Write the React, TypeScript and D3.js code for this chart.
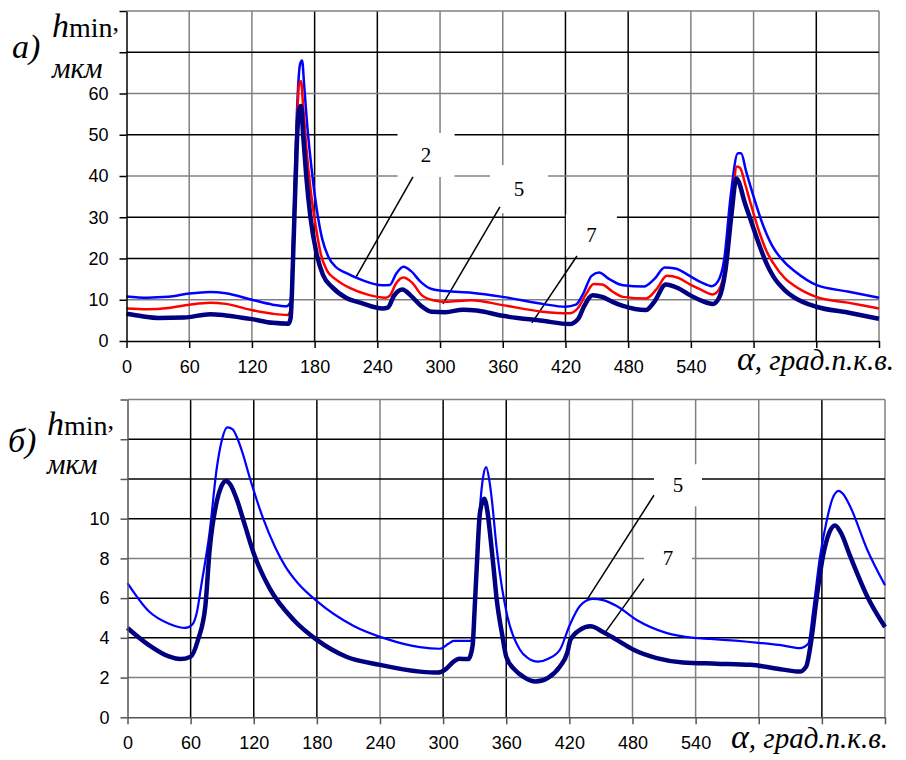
import { useEffect, useRef } from 'react';
import * as d3 from 'd3';

type Pt = [number, number];

// Angle axis (crank angle, degrees) -------------------------------------------
const ANGLE_TICKS = [0, 60, 120, 180, 240, 300, 360, 420, 480, 540, 600, 660, 720];
const ANGLE_LABELS = [0, 60, 120, 180, 240, 300, 360, 420, 480, 540];

// Panel a) ---------------------------------------------------------------------
const TOP_Y_TICKS = [0, 10, 20, 30, 40, 50, 60, 70, 80];
const TOP_Y_LABELS = [0, 10, 20, 30, 40, 50, 60];

const TOP_CURVE_2: Pt[] = [
  [0, 10.8], [20, 10.5], [40, 10.7], [60, 11.5], [80, 11.9], [95, 11.6], [120, 10.0], [140, 8.8],
  [153, 8.4], [157, 9.5], [160, 30], [163, 55], [166, 67], [168, 68], [170, 62], [173, 52],
  [177, 42], [182, 32], [187, 25], [193, 20.5], [200, 18], [210, 16.5], [225, 14.8], [245, 13.5],
  [252, 13.6], [258, 16.3], [265, 18], [272, 17], [282, 14.2], [292, 12.6], [305, 12.1], [330, 11.7],
  [360, 10.7], [398, 9.0], [420, 8.3], [430, 8.8], [437, 11.5], [445, 15.8], [452, 16.6], [462, 15],
  [475, 13.5], [495, 13.2], [505, 15], [515, 17.8], [525, 17.6], [540, 15.6], [550, 14.2], [560, 13.3],
  [566, 14.5], [572, 20], [578, 35], [585, 45.5], [588, 45.5], [593, 41], [600, 35], [607, 29.5],
  [618, 23], [630, 19], [640, 16.8], [660, 13.6], [690, 12], [720, 10.5],
];

const TOP_CURVE_5: Pt[] = [
  [0, 7.9], [20, 7.7], [40, 8.0], [60, 8.8], [80, 9.3], [95, 9.0], [120, 7.5], [140, 6.6],
  [154, 6.3], [157, 7.5], [160, 28], [163, 52], [165, 62], [167, 63], [169, 57], [172, 47],
  [176, 37], [181, 28], [186, 21], [192, 17], [200, 15], [214, 12.8], [230, 11.3], [248, 10.5],
  [252, 11], [258, 14], [265, 15.4], [273, 14.2], [283, 11], [295, 9.8], [305, 9.5], [330, 9.9],
  [360, 8.7], [398, 7.1], [424, 6.7], [432, 8.0], [440, 11.5], [447, 13.8], [455, 13.7], [465, 12],
  [475, 10.7], [497, 10.3], [507, 12.5], [517, 15.8], [528, 15.3], [540, 13.6], [550, 12.4], [561, 11.3],
  [567, 12.5], [573, 18], [579, 32], [584, 42.3], [587, 42], [592, 38], [597, 33.5], [606, 26],
  [612, 22], [619, 18.8], [630, 15.2], [638, 13.6], [660, 10.7], [690, 9.3], [720, 7.9],
];

const TOP_CURVE_7: Pt[] = [
  [0, 6.6], [15, 6.0], [30, 5.6], [55, 5.7], [80, 6.5], [95, 6.2], [120, 5.3], [140, 4.4],
  [155, 4.2], [157, 5.5], [160, 25], [163, 48], [165, 56], [167, 57], [169, 50], [172, 40],
  [176, 30], [182, 21], [188, 16], [197, 13], [210, 10.5], [225, 9.2], [245, 7.9], [250, 8.1],
  [256, 11], [264, 12.5], [272, 11], [282, 8.5], [292, 7.1], [305, 7.0], [322, 7.6], [335, 7.4],
  [360, 6.1], [398, 4.9], [424, 4.1], [432, 5.3], [438, 8.5], [446, 11.1], [455, 10.7], [465, 9.5],
  [475, 8.5], [497, 7.5], [505, 9.5], [516, 13.7], [528, 12.8], [540, 11], [550, 9.8], [561, 9.0],
  [567, 10.5], [573, 17], [579, 31], [583.5, 39.4], [586, 38.5], [591, 34], [597, 29.5], [606, 22.9],
  [612, 19], [619, 15.6], [630, 12.3], [638, 10.7], [660, 8.3], [690, 6.9], [720, 5.4],
];

// Panel б) ---------------------------------------------------------------------
const BOTTOM_Y_TICKS = [0, 2, 4, 6, 8, 10, 12, 14, 16];
const BOTTOM_Y_LABELS = [0, 2, 4, 6, 8, 10];

const BOTTOM_CURVE_5: Pt[] = [
  [0, 6.75], [20, 5.35], [40, 4.7], [55, 4.5], [62, 4.7], [66, 5.3], [70, 6.6], [78, 9.3],
  [85, 12.6], [89, 13.8], [95, 14.6], [100, 14.5], [104, 14.1], [110, 13.2], [116, 12.1], [129, 10],
  [140, 8.6], [150, 7.6], [162, 6.75], [180, 5.85], [215, 4.6], [246, 3.95], [278, 3.53], [297, 3.45],
  [305, 3.7], [310, 3.85], [326, 3.85], [329, 4.3], [331, 6.5], [333.5, 9.3], [338, 12.1], [341, 12.6],
  [344, 11.9], [346, 11.1], [351, 8.45], [356, 6.5], [361, 5.1], [373, 3.4], [380, 3.0], [390, 2.8],
  [400, 2.95], [411, 3.4], [420, 4.6], [430, 5.6], [442, 5.96], [452, 5.9], [465, 5.6], [484, 4.9],
  [512, 4.25], [538, 4.0], [554, 3.95], [600, 3.75], [625, 3.6], [639, 3.48], [647, 3.7], [652, 5.5],
  [658, 8], [665, 10], [670, 11], [676, 11.4], [680, 11.25], [687, 10.6], [703, 8.45], [720, 6.65],
];

const BOTTOM_CURVE_7: Pt[] = [
  [0, 4.5], [20, 3.65], [40, 3.05], [50, 2.93], [60, 3.05], [67, 3.9], [74, 5.6], [78, 8.4],
  [85, 10.9], [89, 11.6], [93.6, 11.9], [98, 11.7], [104, 10.95], [112, 9.6], [120, 8.25], [135, 6.5],
  [158, 4.9], [180, 3.9], [208, 3.05], [240, 2.64], [278, 2.3], [295, 2.25], [302, 2.4], [310, 2.8],
  [315, 2.95], [324, 2.93], [328, 3.6], [330, 5.5], [332, 7.6], [335, 10.3], [339, 11.0], [342, 10.4],
  [344.5, 9.3], [348, 7.5], [351, 5.9], [356, 4.2], [360, 3.05], [368, 2.4], [376, 2.05], [388, 1.8],
  [400, 2.0], [411, 2.56], [418, 3.25], [421, 3.9], [430, 4.4], [440, 4.58], [452, 4.3], [465, 3.9],
  [481, 3.4], [503, 2.98], [528, 2.76], [560, 2.7], [592, 2.64], [623, 2.4], [639, 2.3], [645, 2.55],
  [650, 3.9], [655, 6], [661, 8.1], [667, 9.3], [672.5, 9.66], [678, 9.3], [687, 8.1], [703, 6.1],
  [720, 4.55],
];

// Styles ---------------------------------------------------------------------
const BLUE = '#0000ff';
const RED = '#ff0000';
const NAVY = '#000080';
const GRID_DARK = '#000000';
const GRID_GRAY = '#808080';
const FONT_SANS = '"Liberation Sans", Arial, sans-serif';
const FONT_SERIF = '"Liberation Serif", "Times New Roman", serif';

type Callout = { label: string; box: Pt; w: number; h: number; from: Pt; to: Pt };

type Panel = {
  left: number; right: number; top: number; bottom: number; yMax: number;
  yTicks: number[]; yLabels: number[];
  darkX: number[]; darkY: number[]; axisColor: string;
  series: { points: Pt[]; color: string; width: number }[];
  callouts: Callout[];
  tag: string; tagY: number; hY: number; unitY: number; hX: number; tagX: number;
  alphaY: number; alphaX: number;
};

const PANELS: Panel[] = [
  {
    left: 126.5, right: 879, top: 11, bottom: 341, yMax: 80,
    yTicks: TOP_Y_TICKS, yLabels: TOP_Y_LABELS,
    darkX: [180, 240, 420, 480, 660], darkY: [20, 30, 50, 70], axisColor: '#000',
    series: [
      { points: TOP_CURVE_2, color: BLUE, width: 2.5 },
      { points: TOP_CURVE_5, color: RED, width: 2.5 },
      { points: TOP_CURVE_7, color: NAVY, width: 4.5 },
    ],
    callouts: [
      { label: '2', box: [286.6, 45.1], w: 57, h: 44, from: [274.1, 39.8], to: [219.6, 15.5] },
      { label: '5', box: [375.5, 36.8], w: 58, h: 48, from: [357.3, 32.5], to: [302.8, 9.0] },
      { label: '7', box: [444.8, 25.7], w: 51, h: 42, from: [431, 20.6], to: [387.9, 4.4] },
    ],
    tag: 'а)', tagX: 12, tagY: 58, hX: 52, hY: 37, unitY: 78, alphaX: 737, alphaY: 370,
  },
  {
    left: 127.5, right: 885, top: 399.5, bottom: 717.3, yMax: 16,
    yTicks: BOTTOM_Y_TICKS, yLabels: BOTTOM_Y_LABELS,
    darkX: [60, 120, 180, 300, 360, 660], darkY: [4, 6, 10, 12, 14], axisColor: '#555',
    series: [
      { points: BOTTOM_CURVE_5, color: BLUE, width: 2.2 },
      { points: BOTTOM_CURVE_7, color: NAVY, width: 4.5 },
    ],
    callouts: [
      { label: '5', box: [523.2, 11.68], w: 48, h: 42, from: [500.4, 11.18], to: [436.8, 5.92] },
      { label: '7', box: [513.7, 8.0], w: 48, h: 38, from: [490.9, 6.98], to: [453.9, 4.26] },
    ],
    tag: 'б)', tagX: 8, tagY: 452, hX: 47, hY: 435, unitY: 474, alphaX: 731, alphaY: 748,
  },
];

function drawPanel(svg: d3.Selection<SVGSVGElement, unknown, null, undefined>, p: Panel) {
  const x = d3.scaleLinear().domain([0, 720]).range([p.left, p.right]);
  const y = d3.scaleLinear().domain([0, p.yMax]).range([p.bottom, p.top]);
  const g = svg.append('g');

  // Grid -----------------------------------------------------------------
  g.selectAll('line.vgrid')
    .data(ANGLE_TICKS.filter((t) => t > 0))
    .join('line')
    .attr('x1', (d) => x(d)).attr('x2', (d) => x(d))
    .attr('y1', y(0)).attr('y2', y(p.yMax))
    .attr('stroke', (d) => (p.darkX.includes(d) ? GRID_DARK : GRID_GRAY))
    .attr('stroke-width', 1.5);

  g.selectAll('line.hgrid')
    .data(p.yTicks.filter((t) => t > 0))
    .join('line')
    .attr('x1', x(0)).attr('x2', x(720))
    .attr('y1', (d) => y(d)).attr('y2', (d) => y(d))
    .attr('stroke', (d) => (p.darkY.includes(d) ? GRID_DARK : GRID_GRAY))
    .attr('stroke-width', 1.5);

  // Callout boxes hide the grid behind the curve numbers ------------------
  for (const c of p.callouts) {
    g.append('rect')
      .attr('x', x(c.box[0]) - c.w / 2).attr('y', y(c.box[1]) - c.h / 2)
      .attr('width', c.w).attr('height', c.h)
      .attr('fill', '#fff');
    g.append('text')
      .attr('x', x(c.box[0])).attr('y', y(c.box[1]) + 7)
      .attr('text-anchor', 'middle')
      .style('font-family', FONT_SERIF).style('font-size', '21px')
      .text(c.label);
    g.append('line')
      .attr('x1', x(c.from[0])).attr('y1', y(c.from[1]))
      .attr('x2', x(c.to[0])).attr('y2', y(c.to[1]))
      .attr('stroke', '#000').attr('stroke-width', 1.5);
  }

  // Curves -----------------------------------------------------------------
  const line = d3.line<Pt>()
    .x((d) => x(d[0]))
    .y((d) => y(d[1]))
    .curve(d3.curveMonotoneX);

  for (const s of p.series) {
    g.append('path')
      .attr('d', line(s.points))
      .attr('fill', 'none')
      .attr('stroke', s.color)
      .attr('stroke-width', s.width)
      .attr('stroke-linejoin', 'round');
  }

  // Axes -------------------------------------------------------------------
  const xAxis = d3.axisBottom(x)
    .tickValues(ANGLE_TICKS)
    .tickSize(7).tickSizeOuter(0).tickPadding(12)
    .tickFormat((d) => (ANGLE_LABELS.includes(+d) ? String(d) : ''));
  const yAxis = d3.axisLeft(y)
    .tickValues(p.yTicks)
    .tickSize(7).tickSizeOuter(0).tickPadding(11)
    .tickFormat((d) => (p.yLabels.includes(+d) ? String(d) : ''));

  for (const [axis, tr] of [[xAxis, `translate(0,${y(0)})`], [yAxis, `translate(${x(0)},0)`]] as const) {
    const ag = g.append('g').attr('transform', tr).call(axis as any);
    ag.select('.domain').attr('stroke', p.axisColor).attr('stroke-width', 1.5);
    ag.selectAll('.tick line').attr('stroke', p.axisColor).attr('stroke-width', 1.5);
    ag.selectAll('text')
      .style('font-family', FONT_SANS).style('font-size', '18px').attr('fill', '#000');
  }

  // Labels -----------------------------------------------------------------
  g.append('text')
    .attr('x', p.tagX).attr('y', p.tagY)
    .style('font-family', FONT_SERIF).style('font-size', '34px').style('font-style', 'italic')
    .text(p.tag);

  const h = g.append('text')
    .attr('x', p.hX).attr('y', p.hY)
    .style('font-family', FONT_SERIF);
  h.append('tspan').style('font-size', '34px').style('font-style', 'italic').text('h');
  h.append('tspan').style('font-size', '28px').text('min');
  h.append('tspan').style('font-size', '26px').attr('dy', -6).text(',');

  g.append('text')
    .attr('x', p.hX).attr('y', p.unitY)
    .style('font-family', FONT_SERIF).style('font-size', '29px').style('font-style', 'italic')
    .text('мкм');

  const a = g.append('text')
    .attr('x', p.alphaX).attr('y', p.alphaY)
    .style('font-family', FONT_SERIF).style('font-style', 'italic');
  a.append('tspan').style('font-size', '34px').text('α');
  a.append('tspan').style('font-size', '29px').text(', град.п.к.в.');
}

export default function App() {
  const svgRef = useRef<SVGSVGElement>(null);

  useEffect(() => {
    const svg = d3.select(svgRef.current!);
    svg.selectAll('*').remove();
    for (const p of PANELS) drawPanel(svg, p);
  }, []);

  return (
    <svg
      ref={svgRef}
      width={906}
      height={760}
      style={{ position: 'absolute', left: 0, top: 0, background: '#fff' }}
    />
  );
}
